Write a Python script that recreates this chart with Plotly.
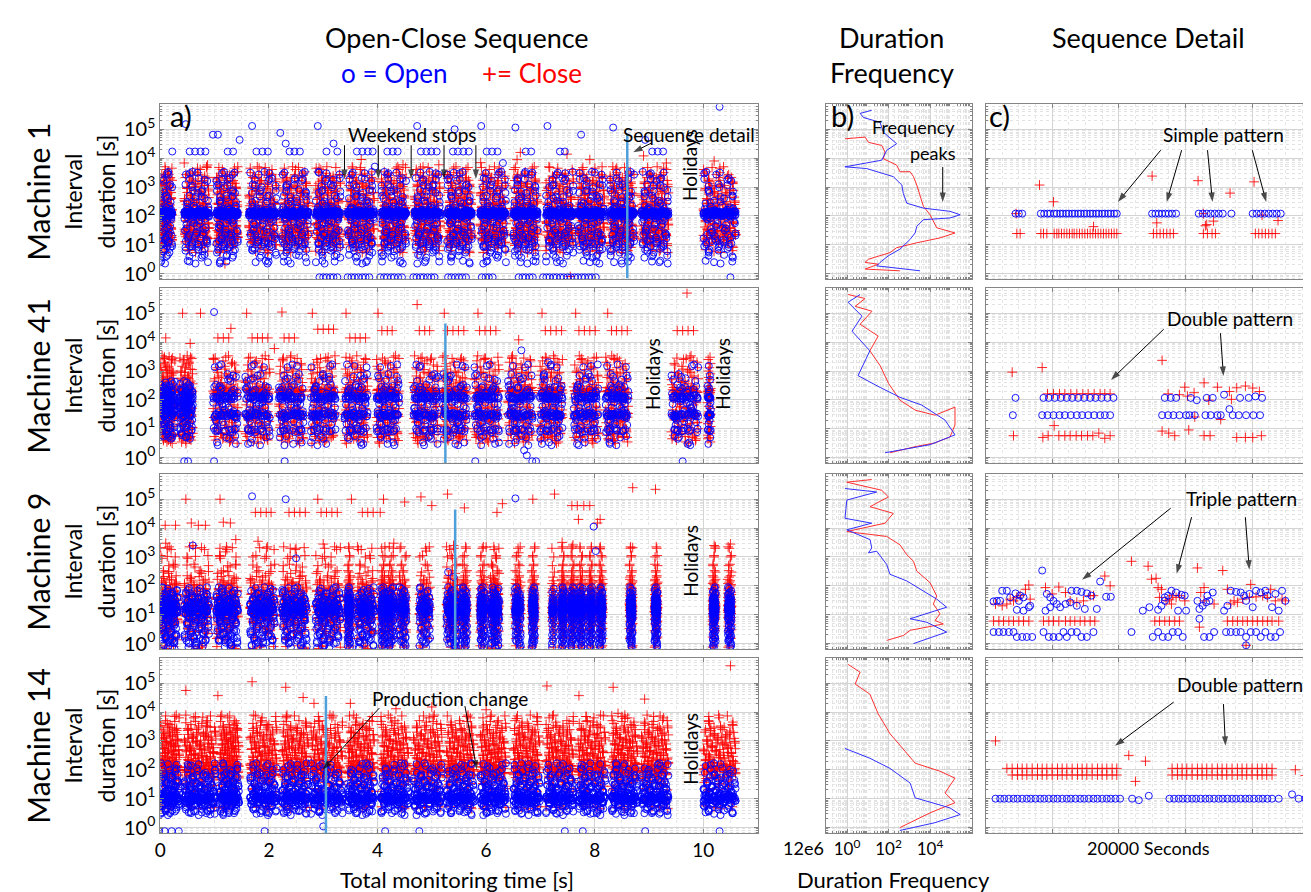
import plotly.graph_objects as go

W, H = 1311, 892

# ---------------- DATA ----------------
MACHINES = ["Machine 1", "Machine 41", "Machine 9", "Machine 14"]
TIME_TICKS = [0, 2, 4, 6, 8, 10]
TIME_TICK_TEXT = ["0", "2", "4", "6", "8", "10"]
DUR_TICKS = [1, 10, 100, 1000, 10000, 100000]
DUR_TICK_TEXT = ["10<sup>0</sup>", "10<sup>1</sup>", "10<sup>2</sup>", "10<sup>3</sup>", "10<sup>4</sup>", "10<sup>5</sup>"]
FREQ_TICKS = [1, 100, 10000]
FREQ_TICK_TEXT = ["10<sup>0</sup>", "10<sup>2</sup>", "10<sup>4</sup>"]

# within-block positions (fraction of block width), read as a scatter pattern
FR = [0.03, 0.51, 0.27, 0.84, 0.12, 0.66, 0.39, 0.95, 0.21, 0.73, 0.05, 0.58, 0.33, 0.89, 0.16,
      0.47, 0.78, 0.09, 0.62, 0.36, 0.99, 0.24, 0.70, 0.43, 0.14, 0.81, 0.55, 0.30, 0.92, 0.07,
      0.64, 0.19, 0.49, 0.86, 0.40, 0.01, 0.76, 0.28, 0.60, 0.97, 0.11, 0.45, 0.69, 0.35, 0.82,
      0.23, 0.53, 0.91, 0.17, 0.74]
SPREAD = [1.0, 1.12, 0.9, 1.05, 0.95, 1.18]

# ---- Machine 1 (time in 1e6 s, durations in s)
m1_start = [0.0, 0.44, 1.03, 1.63, 2.24, 2.86, 3.45, 4.07, 4.68, 5.28, 5.89, 6.50, 7.10, 7.69, 8.28, 8.86, 10.0]
m1_end = [0.22, 0.90, 1.43, 2.15, 2.73, 3.32, 3.94, 4.53, 5.16, 5.74, 6.37, 6.95, 7.61, 8.18, 8.73, 9.36, 10.6]
m1_passes = [3, 4, 4, 4, 4, 4, 4, 4, 4, 4, 4, 4, 4, 4, 4, 4, 4]
m1_open_levels = [2.5, 4, 6, 8, 10, 12, 15, 20, 25, 35, 50, 70, 90, 100, 105, 110, 112, 115, 117, 118, 120, 120,
                  121, 122, 123, 125, 127, 130, 133, 138, 145, 160, 200, 300, 450, 700, 1100, 1800, 3000,
                  119, 116, 124, 126, 114, 128]
m1_close_levels = [6, 9, 11, 13, 15, 17, 19, 21, 23, 25, 28, 31, 35, 40, 46, 52, 60, 70, 80, 95, 110, 130, 150,
                   175, 200, 240, 280, 330, 400, 480, 580, 700, 850, 1000, 1250, 1500, 1900, 2400, 3000,
                   4500, 16, 20, 24, 30, 150, 250]
m1_open_out_x = [0.47, 0.97, 1.06, 1.69, 1.46, 2.21, 2.31, 2.90, 3.19, 3.95, 4.73, 5.42, 5.91, 6.54, 7.13, 7.75,
                 8.34, 8.93, 6.31,
                 0.22, 0.54, 0.64, 0.74, 0.83, 1.24, 1.34, 1.77, 1.88, 1.98, 2.38, 2.47, 2.57, 3.06, 3.26,
                 3.62, 3.72, 3.82, 3.91, 4.18, 4.28, 4.37, 4.80, 4.90, 4.99, 5.09, 5.39, 5.48, 5.58, 5.68,
                 6.01, 6.11, 6.21, 6.73, 6.83, 7.36, 7.45, 9.06, 9.16, 9.26, 10.3,
                 2.93, 3.00, 3.06, 3.13, 3.19, 3.26, 3.45, 3.52, 3.58, 3.65, 3.72, 3.78, 3.85, 4.05, 4.12,
                 4.18, 4.25, 4.31, 4.38, 4.45, 4.66, 4.72, 4.79, 4.85, 4.92, 4.99, 5.05, 5.30, 5.36, 5.43,
                 5.50, 5.56, 5.63, 5.92, 5.99, 6.05, 6.12, 6.60, 6.67, 6.73, 6.80, 6.86, 7.05, 7.11, 7.17,
                 7.24, 7.30, 7.37, 7.43, 7.50, 7.56, 7.63, 7.69, 7.76, 7.82, 7.89, 7.95, 8.02, 10.5]
m1_open_out_y = [150000, 65000, 65000, 130000, 43000, 75000, 32000, 130000, 32000, 5100, 130000, 100000,
                 130000, 115000, 130000, 65000, 115000, 43000, 6800,
                 17000, 17000, 17000, 17000, 17000, 17000, 17000, 17000, 17000, 17000, 17000, 17000, 17000,
                 17000, 17000, 17000, 17000, 17000, 17000, 17000, 17000, 17000, 17000, 17000, 17000, 17000,
                 17000, 17000, 17000, 17000, 17000, 17000, 17000, 17000, 17000, 17000, 17000, 17000, 17000,
                 17000, 600000,
                 0.75, 0.75, 0.75, 0.75, 0.75, 0.75, 0.75, 0.75, 0.75, 0.75, 0.75, 0.75, 0.75, 0.75, 0.75,
                 0.75, 0.75, 0.75, 0.75, 0.75, 0.75, 0.75, 0.75, 0.75, 0.75, 0.75, 0.75, 0.75, 0.75, 0.75,
                 0.75, 0.75, 0.75, 0.75, 0.75, 0.75, 0.75, 0.75, 0.75, 0.75, 0.75, 0.75, 0.75, 0.75, 0.75,
                 0.75, 0.75, 0.75, 0.75, 0.75, 0.75, 0.75, 0.75, 0.75, 0.75, 0.75, 0.75, 0.75, 0.75]
m1_close_out_x = [0.44, 1.42, 0.87, 1.82, 2.87, 4.47, 5.13, 6.57, 7.49, 7.91, 9.32, 6.63, 1.19, 7.55, 3.7, 5.9,
                  8.9, 10.2]
m1_close_out_y = [6800, 3400, 5800, 4500, 4500, 5900, 5900, 8900, 13800, 8900, 6800, 15800, 2.2, 0.8, 9000,
                  7000, 12000, 8000]

# ---- Machine 41
m41_start = [0.0, 0.35, 0.97, 1.56, 2.18, 2.77, 3.39, 3.98, 4.66, 5.19, 5.78, 6.40, 6.99, 7.61, 8.20, 9.41, 10.08]
m41_end = [0.27, 0.60, 1.43, 2.02, 2.64, 3.23, 3.82, 4.40, 5.12, 5.65, 6.24, 6.86, 7.41, 8.07, 8.62, 9.91, 10.14]
m41_passes = [4, 3, 3, 3, 3, 3, 3, 3, 3, 3, 3, 3, 3, 3, 3, 3, 1]
m41_profile = [1, 1, 0, 0, 0, 0, 0, 0, 0, 0, 0, 0, 0, 0, 0, 0, 0]
m41_open_levels = [120, 118, 122, 125, 115, 120, 128, 112, 30, 29, 31, 32, 28, 30, 33, 27, 9, 9, 8.5, 9.5,
                   60, 80, 200, 300, 500, 15, 20, 45, 150, 250, 700, 1500, 5, 3, 120, 30]
m41_open_early = [20, 25, 30, 35, 40, 50, 60, 70, 80, 90, 100, 110, 120, 130, 150, 170, 200, 250, 300, 400,
                  15, 12, 10, 8, 6, 5, 45, 55, 65, 75, 85, 95, 105, 140, 180, 220, 28, 33, 38, 48]
m41_close_levels = [200, 210, 190, 220, 180, 30, 30, 28, 32, 35, 25, 5, 6, 7, 8, 10, 12, 15, 18, 22, 40, 50, 60,
                    80, 100, 130, 160, 250, 300, 400, 500, 600, 800, 1000, 1300, 1800, 2500, 3000, 200, 230,
                    170, 3.5, 4.5]
m41_open_out_x = [0.99, 6.65, 7.14, 0.44, 0.51, 0.99, 2.29, 5.80, 6.85, 6.92, 9.62, 6.70, 6.75]
m41_open_out_y = [110000, 5200, 2000, 0.75, 0.75, 0.75, 0.75, 0.75, 0.75, 0.75, 0.75, 1.8, 1.2]
m41_close_out_x = [0.41, 0.74, 1.59, 2.24, 2.80, 3.42, 4.01, 4.73, 5.23, 5.85, 6.44, 7.03, 7.65, 8.24, 9.7,
                   4.08, 4.18, 4.27, 4.77, 4.87, 4.96, 5.29, 5.39, 5.49, 5.59, 5.88, 5.98, 6.08, 6.18, 7.09,
                   7.19, 7.29, 7.39, 7.71, 7.81, 7.91, 8.01, 8.31, 8.40, 8.50, 8.60, 9.52, 9.62, 9.72, 9.82,
                   2.90, 3.00, 3.10, 3.19,
                   1.06, 1.16, 1.26, 1.69, 1.79, 1.88, 1.98, 2.28, 2.37, 2.47, 3.49, 3.59, 3.68, 3.78,
                   0.1, 0.55, 1.3, 2.1, 6.6]
m41_close_out_y = [100000, 100000, 100000, 110000, 100000, 100000, 100000, 200000, 100000, 100000, 100000,
                   100000, 100000, 100000, 500000,
                   25000, 25000, 25000, 25000, 25000, 25000, 25000, 25000, 25000, 25000, 25000, 25000, 25000,
                   25000, 25000, 25000, 25000, 25000, 25000, 25000, 25000, 25000, 25000, 25000, 25000, 25000,
                   25000, 25000, 25000, 25000,
                   28000, 28000, 28000, 28000,
                   14000, 14000, 14000, 14000, 14000, 14000, 14000, 14000, 14000, 14000, 14000, 14000, 14000,
                   14000,
                   14000, 9000, 30000, 6000, 12000]

# ---- Machine 9
m9_start = [0.0, 0.44, 1.03, 1.65, 2.24, 2.86, 3.45, 3.62, 4.07, 4.20, 4.40, 4.77, 5.27, 5.56, 5.89, 6.08,
            6.53, 6.84, 7.21, 7.39, 7.56, 7.72, 7.90, 8.08, 8.64, 9.10, 10.17, 10.45]
m9_end = [0.32, 0.90, 1.43, 2.11, 2.70, 3.32, 3.50, 3.94, 4.14, 4.30, 4.53, 4.97, 5.49, 5.65, 5.97, 6.24,
          6.64, 6.90, 7.26, 7.44, 7.62, 7.78, 7.96, 8.15, 8.70, 9.16, 10.23, 10.52]
m9_passes = [4, 4, 4, 4, 4, 4, 2, 3, 2, 2, 2, 2, 3, 2, 2, 3, 2, 2, 1, 2, 2, 2, 2, 2, 2, 2, 2, 2]
m9_open_levels = [8, 9, 10, 11, 12, 13, 14, 15, 16, 17, 18, 19, 20, 22, 24, 26, 28, 30, 33, 36, 40, 50, 60, 80,
                  1.0, 1.2, 1.4, 1.7, 2.0, 2.4, 3.0, 3.6, 4.5, 5.5, 6.5, 7, 15, 14, 12, 13, 16, 0.75]
m9_close_levels = [3, 4, 5, 6, 7, 8, 9, 10, 11, 12, 13, 14, 15, 16, 18, 20, 22, 25, 28, 30, 35, 40, 45, 50, 60,
                   70, 80, 100, 120, 150, 200, 300, 500, 1000, 2000, 0.75, 1.5, 2.5, 17, 19, 21]
m9_open_out_x = [1.69, 2.31, 6.54, 7.98, 8.02, 0.6, 2.5, 5.4, 5.3]
m9_open_out_y = [126000, 100000, 107000, 11200, 1600, 2500, 900, 200, 300]
m9_close_out_x = [0.47, 1.10, 2.90, 3.52, 4.11, 4.80, 5.29, 6.86, 7.26, 8.70, 9.12,
                  1.75, 1.85, 1.95, 2.04, 2.37, 2.47, 2.57, 2.67, 2.96, 3.06, 3.16, 3.26, 3.72, 3.82, 3.92,
                  4.05, 7.58, 7.68, 7.80, 7.91,
                  0.09, 0.28, 0.57, 0.70, 0.83, 1.16, 1.29, 1.39, 4.5, 5.0, 5.6, 6.2, 6.3, 7.7, 8.05, 8.1,
                  0.1, 0.6, 1.2, 1.8, 2.5, 3.0, 3.7, 4.3, 4.9, 5.4, 6.0, 6.6, 7.4, 7.6, 8.1, 8.7, 10.2, 10.5]
m9_close_out_y = [100000, 100000, 100000, 100000, 100000, 120000, 150000, 100000, 150000, 250000, 220000,
                  35000, 35000, 35000, 35000, 35000, 35000, 35000, 35000, 35000, 35000, 35000, 35000,
                  35000, 35000, 35000, 35000, 60000, 60000, 60000, 60000,
                  12500, 12500, 15000, 12500, 12500, 16000, 15000, 4000, 80000, 60000, 50000, 35000, 70000,
                  20000, 15000, 20000,
                  3000, 2500, 1500, 3500, 2000, 2800, 1800, 3000, 1600, 2500, 2200, 1400, 3200, 2600, 1900,
                  2100, 2500, 2800]

# ---- Machine 14
m14_start = [0.0, 0.44, 1.10, 1.65, 2.24, 2.77, 3.45, 4.06, 4.66, 5.27, 5.89, 6.50, 7.10, 7.69, 8.31, 8.86, 10.0]
m14_end = [0.35, 1.03, 1.45, 2.15, 2.73, 3.36, 3.94, 4.57, 5.19, 5.78, 6.37, 6.99, 7.61, 8.20, 8.79, 9.36, 10.6]
m14_passes = [4, 5, 4, 4, 4, 4, 4, 4, 4, 4, 4, 4, 4, 4, 4, 4, 4]
m14_open_levels = [3, 3.5, 4, 5, 6, 7, 7.5, 8, 8.5, 9, 9.5, 10, 10, 10.5, 11, 11.5, 12, 13, 14, 15, 16, 18, 20,
                   22, 25, 28, 30, 35, 40, 50, 60, 70, 100, 150, 9, 10, 11, 12, 8, 6.5]
m14_close_levels = [5, 10, 20, 30, 40, 50, 60, 70, 80, 90, 100, 110, 125, 140, 160, 180, 200, 230, 260, 300,
                    350, 400, 450, 520, 600, 700, 800, 950, 1100, 1300, 1500, 1800, 2200, 2700, 3300, 4500,
                    7000, 80, 100, 120, 90, 150]
m14_open_out_x = [-0.02, 0.08, 0.21, 0.34, 1.92, 4.14, 4.77, 7.45, 7.78, 8.93, 3.0, 10.3]
m14_open_out_y = [0.75, 0.75, 0.75, 0.75, 0.75, 0.75, 0.75, 0.75, 0.75, 0.75, 1.1, 0.75]
m14_close_out_x = [0.47, 1.06, 1.69, 2.31, 2.83, 2.63, 1.95, 1.39, 4.34, 7.12, 7.71, 7.84, 8.34, 8.43, 8.56,
                   8.92, 9.25, 6.56, 3.5, 5.0, 6.0, 10.5]
m14_close_out_y = [56000, 37000, 112000, 72000, 20000, 32000, 3700, 2800, 13000, 80000, 37000, 7000, 72000,
                   9000, 6000, 28000, 5200, 6000, 20000, 15000, 12000, 400000]

# sequence-detail marker lines (time 1e6 s, top duration s)
SEQ_X = [8.6, 5.25, 5.43, 3.05]
SEQ_TOP = [65000, 44000, 44000, 36000]
SEQ_BOTTOM = [0.7, 0.63, 0.63, 0.63]

# ---- Duration frequency curves (log10 frequency, log10 duration)
b1_blue_f = [1.19, 0.63, 0.79, 1.59, 1.75, 2.39, 1.91, 1.67, -0.10, 0.95, 2.23, 2.64, 2.71, 2.88, 3.68, 4.96,
             5.45, 4.96, 3.68, 3.36, 3.28, 3.04, 2.55, 1.99, 1.59, 1.43, 2.07, 3.52]
b1_blue_d = [5.66, 5.55, 5.41, 5.24, 4.90, 4.50, 4.27, 3.93, 3.70, 3.64, 3.36, 3.07, 2.78, 2.44, 2.27, 2.16,
             2.04, 1.93, 1.87, 1.64, 1.41, 1.19, 0.85, 0.62, 0.39, 0.27, 0.22, 0.10]
b1_red_f = [-0.10, 0.87, 1.03, 1.67, 1.83, 1.75, 2.39, 2.55, 3.04, 3.20, 3.36, 3.52, 3.68, 4.00, 4.24, 4.32,
            5.20, 4.48, 3.36, 2.39, 2.07, 1.03, 0.87, 1.51, 0.87, 2.55]
b1_red_d = [4.67, 4.73, 4.55, 4.44, 4.21, 3.98, 3.76, 3.53, 3.53, 3.36, 3.07, 2.67, 2.33, 2.04, 1.70, 1.59,
            1.41, 1.24, 1.07, 0.90, 0.73, 0.50, 0.39, 0.33, 0.16, 0.10]
b2_blue_f = [0.63, 0.05, 0.72, 0.24, 1.10, 0.53, 1.60, 2.55, 3.60, 4.72, 5.20, 4.00, 1.83]
b2_blue_d = [5.65, 5.38, 4.90, 4.38, 3.70, 2.84, 2.43, 2.09, 1.82, 1.30, 0.79, 0.45, 0.17]
b2_red_f = [0.05, 0.87, 0.39, 1.20, 0.63, 1.50, 1.10, 1.60, 2.00, 2.55, 3.30, 4.24, 5.20, 5.20, 4.96, 4.24,
            3.28, 2.07]
b2_red_d = [5.65, 5.51, 5.24, 5.07, 4.62, 4.21, 3.70, 3.18, 2.57, 1.99, 1.64, 1.47, 1.75, 1.13, 0.72, 0.51,
            0.38, 0.17]
b3_blue_f = [-0.10, 1.43, -0.01, -0.10, 1.19, -0.01, 1.11, 1.19, 1.03, 1.43, 1.91, 2.07, 2.88, 3.68, 4.32,
             4.80, 3.04, 3.84, 4.80, 3.20]
b3_blue_d = [5.37, 5.25, 4.97, 4.34, 4.17, 3.94, 3.60, 3.31, 3.14, 3.20, 2.74, 2.40, 2.17, 1.83, 1.54, 1.26,
             0.86, 0.74, 0.40, 0.00]
b3_red_f = [1.19, -0.01, 1.67, 1.99, 1.11, 2.23, 1.83, -0.01, 1.91, 2.55, 2.88, 3.20, 3.36, 4.00, 4.32, 4.16,
            4.48, 4.24, 4.64, 3.04, 2.71, 1.91]
b3_red_d = [5.68, 5.59, 5.31, 5.08, 4.74, 4.51, 4.17, 3.88, 3.71, 3.42, 3.08, 2.85, 2.51, 2.11, 1.65, 1.37,
            1.03, 0.80, 0.68, 0.46, 0.28, 0.11]
b4_blue_f = [-0.10, 1.10, 2.07, 3.04, 3.28, 4.96, 5.45, 4.24, 2.55]
b4_blue_d = [2.74, 2.40, 2.05, 1.54, 1.03, 0.68, 0.45, 0.17, -0.10]
b4_red_f = [0.05, 0.63, 0.39, 1.10, 1.50, 2.07, 2.80, 3.28, 4.48, 5.20, 4.72, 5.20, 4.00, 2.55]
b4_red_d = [5.65, 5.38, 4.97, 4.62, 3.94, 3.25, 2.64, 2.23, 1.95, 1.71, 1.20, 0.86, 0.51, 0.00]

# ---- Sequence detail (x in grid units of the detail window, log10 duration)
c1_open_x = [0.45, 0.50, 0.55, 0.83, 0.88, 0.93, 0.97, 1.03, 1.07, 1.12, 1.16, 1.21, 1.25, 1.30, 1.34, 1.39,
             1.43, 1.48, 1.52, 1.57, 1.61, 1.66, 1.70, 1.75, 1.79, 1.84, 1.88, 1.93, 1.97, 2.50, 2.55, 2.60,
             2.65, 2.70, 2.75, 2.80, 2.86, 3.20, 3.26, 3.32, 3.38, 3.44, 3.50, 3.56, 3.69, 4.01, 4.07, 4.13,
             4.19, 4.25, 4.31, 4.37, 4.43]
c1_open_y = [2.08] * 53
c1_close_x = [0.47, 0.52, 0.83, 0.87, 0.92, 1.03, 1.07, 1.10, 1.14, 1.18, 1.22, 1.26, 1.30, 1.33, 1.37, 1.41,
              1.45, 1.49, 1.53, 1.57, 1.61, 1.65, 1.69, 1.73, 1.77, 1.81, 1.85, 1.89, 1.93, 1.97, 2.52, 2.57,
              2.62, 2.67, 2.72, 2.77, 2.82, 3.27, 3.33, 3.40, 3.45, 4.05, 4.10, 4.15, 4.20, 4.25, 4.30, 4.35,
              0.81, 1.02, 1.62, 2.50, 2.57, 3.19, 3.67, 3.27, 3.32, 3.30, 3.42, 4.03, 4.15, 4.39, 0.46]
c1_close_y = [1.39] * 48 + [3.07, 2.49, 1.63, 3.38, 1.76, 3.22, 2.79, 2.08, 1.70, 1.66, 1.82, 3.18, 2.03, 1.84,
                            2.08]

c2_open_x = [0.45, 0.87, 0.95, 1.04, 1.13, 1.22, 1.30, 1.39, 1.48, 1.57, 1.65, 1.74, 1.83, 1.92,
             2.69, 2.78, 2.86, 3.08, 3.17, 3.32, 3.41, 3.58, 3.82, 3.95, 4.05, 4.15,
             0.41, 0.85, 0.93, 1.02, 1.11, 1.19, 1.28, 1.37, 1.45, 1.54, 1.63, 1.72, 1.79, 1.87,
             2.65, 2.74, 2.82, 2.91, 3.01, 3.06, 3.14, 3.30, 3.38, 3.48, 3.53, 3.66, 3.71, 3.80, 3.91, 4.02, 4.12]
c2_open_y = [2.07, 2.07, 2.07, 2.07, 2.07, 2.07, 2.07, 2.07, 2.07, 2.07, 2.07, 2.07, 2.07, 2.07,
             2.07, 2.07, 2.07, 2.07, 1.99, 2.07, 2.07, 2.18, 2.07, 2.07, 2.12, 2.07,
             1.47, 1.47, 1.47, 1.47, 1.47, 1.47, 1.47, 1.47, 1.47, 1.47, 1.47, 1.47, 1.47, 1.47,
             1.47, 1.47, 1.47, 1.47, 1.47, 1.47, 1.47, 1.47, 1.47, 1.47, 1.47, 1.68, 1.47, 1.47, 1.47, 1.47, 1.47]
c2_close_x = [0.93, 1.02, 1.11, 1.19, 1.28, 1.37, 1.46, 1.54, 1.63, 1.72, 1.79, 1.87,
              0.42, 0.86, 0.94, 1.10, 1.19, 1.27, 1.36, 1.44, 1.53, 1.61, 1.70, 1.79, 1.87,
              0.40, 0.85, 1.03, 2.65, 2.74, 2.91, 2.99, 3.03, 3.13, 3.14, 3.05, 3.28, 3.35, 3.48, 3.53,
              3.66, 3.69, 3.77, 3.90, 4.01, 4.11,
              2.65, 2.75, 2.84, 3.28, 3.37, 3.77, 3.90, 4.01, 4.14]
c2_close_y = [2.21, 2.21, 2.21, 2.21, 2.21, 2.21, 2.21, 2.21, 2.21, 2.21, 2.21, 2.21,
              0.76, 0.70, 0.76, 0.76, 0.76, 0.76, 0.76, 0.76, 0.76, 0.76, 0.85, 0.67, 0.76,
              2.96, 3.12, 1.11, 3.37, 2.21, 2.18, 2.44, 2.13, 2.25, 1.41, 0.96, 2.59, 1.99, 2.44, 1.32,
              2.29, 2.02, 2.42, 2.48, 2.41, 2.29,
              0.92, 0.85, 0.76, 0.76, 0.76, 0.70, 0.70, 0.70, 0.76]

c3_open_x = [0.17, 0.22, 0.12, 0.25, 0.32, 0.37, 0.45, 0.52, 0.50, 0.57, 0.47, 0.57, 0.65, 0.67,
             0.12, 0.20, 0.27, 0.35, 0.42, 0.47, 0.55, 0.62, 0.70,
             0.92, 0.97, 1.02, 1.07, 1.12, 1.20, 1.27, 1.29, 1.37, 1.44, 1.52, 1.59, 0.90, 0.97, 1.37, 1.49, 1.67,
             0.87, 0.95, 1.02, 1.10, 1.17, 1.22, 1.29, 1.37, 1.44, 1.52, 1.62,
             0.85, 1.72, 1.81, 1.88, 2.19,
             2.36, 2.46, 2.59, 2.64, 2.69, 2.74, 2.79, 2.86, 2.94, 2.99, 2.89, 3.01, 2.69,
             2.51, 2.59, 2.66, 2.74, 2.81, 2.89, 2.96,
             3.18, 3.21, 3.26, 3.31, 3.36, 3.41, 3.33, 3.21, 3.28, 3.36, 3.43,
             3.58, 3.63, 3.68, 3.76, 3.83, 3.88, 3.91, 3.96, 4.01, 4.06, 4.13, 4.20, 4.23, 4.30, 4.35, 4.40, 4.45, 4.50,
             3.61, 3.68, 3.76, 3.83, 3.91, 3.98, 4.06, 4.13, 4.20, 4.28, 4.35, 4.42, 3.91]
c3_open_y = [1.48, 1.48, 1.46, 1.83, 1.83, 1.60, 1.74, 1.66, 1.48, 1.60, 1.17, 1.14, 1.26, 1.31,
             0.40, 0.40, 0.40, 0.40, 0.40, 0.23, 0.23, 0.23, 0.23,
             1.72, 1.60, 1.48, 1.37, 1.26, 1.37, 1.43, 1.83, 1.83, 1.79, 1.74, 1.66, 1.14, 1.26, 1.31, 1.20, 1.20,
             0.40, 0.23, 0.23, 0.23, 0.40, 0.23, 0.40, 0.40, 0.23, 0.23, 0.40,
             2.53, 2.15, 1.62, 1.62, 0.40,
             1.14, 1.26, 1.17, 1.31, 1.48, 1.66, 1.83, 1.77, 1.69, 1.66, 1.14, 1.14, 1.60,
             0.23, 0.40, 0.23, 0.23, 0.40, 0.40, 0.23,
             1.48, 1.20, 1.31, 1.43, 1.48, 1.77, 1.66, 0.86, 0.23, 0.23, 0.40,
             1.14, 1.31, 1.83, 1.79, 1.77, 1.66, 1.48, 1.72, 1.26, 1.83, 1.77, 1.83, 1.66, 1.26, 1.72, 1.14, 1.83, 1.48,
             0.40, 0.40, 0.40, 0.40, 0.23, 0.40, 0.40, 0.23, 0.40, 0.23, 0.23, 0.40, -0.06]
c3_close_x = [0.15, 0.25, 0.32, 0.37, 0.42, 0.47, 0.52, 0.60, 0.65, 0.67,
              0.12, 0.20, 0.27, 0.35, 0.42, 0.50, 0.57, 0.65,
              0.90, 1.00, 1.10, 1.20, 1.27, 1.37, 1.47, 1.57, 1.62,
              0.87, 0.95, 1.02, 1.10, 1.20, 1.27, 1.34, 1.42, 1.49, 1.57, 1.64,
              1.79, 1.87, 2.19,
              2.44, 2.49, 2.56, 2.59, 2.64, 2.61, 2.71, 2.76, 2.81, 2.86, 2.91, 2.99, 2.79,
              2.54, 2.61, 2.69, 2.76, 2.84, 2.91,
              3.18, 3.28, 3.23, 3.28, 3.43, 3.21,
              3.56, 3.98, 3.63, 3.68, 3.73, 3.78, 3.86, 3.96, 4.06, 4.16, 4.23, 4.28, 4.35, 4.45, 4.50,
              3.63, 3.71, 3.78, 3.86, 3.93, 4.01, 4.08, 4.16, 4.23, 4.30, 4.40, 3.91]
c3_close_y = [1.37, 1.31, 1.37, 1.54, 1.48, 1.60, 1.66, 1.88, 2.03, 1.54,
              0.78, 0.78, 0.78, 0.78, 0.78, 0.78, 0.78, 0.78,
              1.94, 1.72, 1.96, 1.77, 1.48, 1.43, 1.48, 1.66, 1.66,
              0.78, 0.78, 0.78, 0.78, 0.78, 0.78, 0.78, 0.78, 0.78, 0.78, 0.78,
              2.34, 2.00, 2.85,
              2.68, 2.23, 2.26, 1.94, 1.88, 1.60, 1.48, 1.54, 1.66, 1.60, 1.66, 1.48, 1.37,
              0.78, 0.78, 0.78, 0.78, 0.78, 0.78,
              2.62, 1.94, 1.77, 1.48, 1.37, 0.57,
              2.53, 2.05, 1.88, 1.37, 1.48, 1.43, 1.54, 1.60, 1.62, 1.66, 1.60, 1.88, 1.48, 1.54, 1.48,
              0.78, 0.78, 0.78, 0.78, 0.78, 0.78, 0.78, 0.78, 0.78, 0.78, 0.78, -0.06]

c4_open_x = [0.15, 0.22, 0.28, 0.35, 0.42, 0.48, 0.55, 0.62, 0.68, 0.75, 0.82, 0.88, 0.95, 1.02, 1.08, 1.15,
             1.22, 1.28, 1.35, 1.42, 1.48, 1.55, 1.62, 1.68, 1.75, 1.82, 1.88, 1.95, 2.02, 2.20, 2.30, 2.45,
             2.76, 2.83, 2.90, 2.96, 3.03, 3.10, 3.16, 3.23, 3.30, 3.36, 3.43, 3.50, 3.56, 3.63, 3.70, 3.76,
             3.83, 3.90, 3.96, 4.03, 4.10, 4.16, 4.23, 4.30, 4.40, 4.60, 4.70, 4.80]
c4_open_y = [1.0] * 29 + [1.0, 0.95, 1.1] + [1.0] * 25 + [1.15, 1.0, 1.0, 1.0]
c4_close_x = [0.15, 0.32, 0.40, 0.48, 0.55, 0.62, 0.70, 0.78, 0.85, 0.92, 1.00, 1.08, 1.15, 1.22, 1.30, 1.38,
              1.45, 1.52, 1.60, 1.68, 1.75, 1.82, 1.90, 1.97,
              0.40, 0.48, 0.55, 0.62, 0.70, 0.78, 0.85, 0.92, 1.00, 1.08, 1.15, 1.22, 1.30, 1.38,
              1.45, 1.52, 1.60, 1.68, 1.75, 1.82, 1.90, 1.97,
              2.15, 2.25, 2.40,
              2.80, 2.88, 2.95, 3.02, 3.10, 3.18, 3.25, 3.32, 3.40, 3.48, 3.55, 3.62, 3.70, 3.78, 3.85,
              3.92, 4.00, 4.08, 4.15, 4.22, 4.30,
              2.80, 2.88, 2.95, 3.02, 3.10, 3.18, 3.25, 3.32, 3.40, 3.48, 3.55, 3.62, 3.70, 3.78, 3.85,
              3.92, 4.00, 4.08, 4.15, 4.22, 4.30, 4.65, 4.80]
c4_close_y = [3.0] + [2.05] * 23 + [1.82] * 22 + [2.5, 1.6, 2.3] + [2.05] * 21 + [1.82] * 21 + [2.0, 1.8]

# ---------------- FIGURE ----------------
FONT = "Lato"
BLUE = "rgba(0,0,255,0.9)"
RED = "rgba(255,0,0,0.85)"


def build(starts, ends, passes, levels, profile=None):
    xs, ys = [], []
    for b, (s, e) in enumerate(zip(starts, ends)):
        lv = levels[profile[b]] if profile else levels[0]
        for p in range(passes[b]):
            g = SPREAD[p % len(SPREAD)]
            for j, v in enumerate(lv):
                f = FR[(j + 17 * p + 7 * b) % len(FR)]
                xs.append(s + (e - s) * f)
                ys.append(v * g)
    return xs, ys


panel_a = []
ox, oy = build(m1_start, m1_end, m1_passes, [m1_open_levels])
cx, cy = build(m1_start, m1_end, m1_passes, [m1_close_levels])
panel_a.append((ox + m1_open_out_x, oy + m1_open_out_y, cx + m1_close_out_x, cy + m1_close_out_y))
ox, oy = build(m41_start, m41_end, m41_passes, [m41_open_levels, m41_open_early], m41_profile)
cx, cy = build(m41_start, m41_end, m41_passes, [m41_close_levels, m41_close_levels], m41_profile)
panel_a.append((ox + m41_open_out_x, oy + m41_open_out_y, cx + m41_close_out_x, cy + m41_close_out_y))
ox, oy = build(m9_start, m9_end, m9_passes, [m9_open_levels])
cx, cy = build(m9_start, m9_end, m9_passes, [m9_close_levels])
panel_a.append((ox + m9_open_out_x, oy + m9_open_out_y, cx + m9_close_out_x, cy + m9_close_out_y))
ox, oy = build(m14_start, m14_end, m14_passes, [m14_open_levels])
cx, cy = build(m14_start, m14_end, m14_passes, [m14_close_levels])
panel_a.append((ox + m14_open_out_x, oy + m14_open_out_y, cx + m14_close_out_x, cy + m14_close_out_y))

panel_b = [(b1_blue_f, b1_blue_d, b1_red_f, b1_red_d), (b2_blue_f, b2_blue_d, b2_red_f, b2_red_d),
           (b3_blue_f, b3_blue_d, b3_red_f, b3_red_d), (b4_blue_f, b4_blue_d, b4_red_f, b4_red_d)]
panel_c = [(c1_open_x, c1_open_y, c1_close_x, c1_close_y), (c2_open_x, c2_open_y, c2_close_x, c2_close_y),
           (c3_open_x, c3_open_y, c3_close_x, c3_close_y), (c4_open_x, c4_open_y, c4_close_x, c4_close_y)]


def p10(v):
    return [10 ** t for t in v]


fig = go.Figure()

ROW_PX = [(97, 273), (282, 458), (469, 645), (654, 830)]
COL_PX = [(147, 747), (816, 962), (976, 1306)]


def ax(k, kind):
    return kind if k == 1 else f"{kind}{k}"


circ = dict(symbol="circle-open", size=7, color=BLUE, line=dict(width=1, color=BLUE))
plus = dict(symbol="cross-thin-open", size=7, color=RED, line=dict(width=1, color=RED))

for r in range(4):
    ka, kb, kc = 3 * r + 1, 3 * r + 2, 3 * r + 3
    ox, oy, cx, cy = panel_a[r]
    fig.add_trace(go.Scatter(x=cx, y=cy, mode="markers", marker=plus, xaxis=ax(ka, "x"), yaxis=ax(ka, "y"),
                             showlegend=False, hoverinfo="skip"))
    fig.add_trace(go.Scatter(x=ox, y=oy, mode="markers", marker=circ, xaxis=ax(ka, "x"), yaxis=ax(ka, "y"),
                             showlegend=False, hoverinfo="skip"))
    fig.add_trace(go.Scatter(x=[SEQ_X[r], SEQ_X[r]], y=[SEQ_BOTTOM[r], SEQ_TOP[r]], mode="lines",
                             line=dict(color="#4f9fdc", width=2.5), xaxis=ax(ka, "x"), yaxis=ax(ka, "y"),
                             showlegend=False, hoverinfo="skip"))
    bf, bd, rf, rd = panel_b[r]
    fig.add_trace(go.Scatter(x=p10(rf), y=p10(rd), mode="lines", line=dict(color="#ff3030", width=1),
                             xaxis=ax(kb, "x"), yaxis=ax(kb, "y"), showlegend=False, hoverinfo="skip"))
    fig.add_trace(go.Scatter(x=p10(bf), y=p10(bd), mode="lines", line=dict(color="#3030ff", width=1),
                             xaxis=ax(kb, "x"), yaxis=ax(kb, "y"), showlegend=False, hoverinfo="skip"))
    qx, qy, wx, wy = panel_c[r]
    fig.add_trace(go.Scatter(x=wx, y=p10(wy), mode="markers", marker=plus, xaxis=ax(kc, "x"),
                             yaxis=ax(kc, "y"), showlegend=False, hoverinfo="skip"))
    fig.add_trace(go.Scatter(x=qx, y=p10(qy), mode="markers", marker=circ, xaxis=ax(kc, "x"),
                             yaxis=ax(kc, "y"), showlegend=False, hoverinfo="skip"))

LINE = "#858585"
MINOR_LOG = [m * 10 ** e for e in range(-2, 7) for m in range(2, 10)]
common = dict(showline=True, linecolor=LINE, linewidth=1, mirror="ticks", ticks="inside", ticklen=4,
              tickcolor=LINE, showgrid=True, gridcolor="#d4d4d4", gridwidth=1, zeroline=False,
              tickfont=dict(family=FONT, size=19, color="black"))
minor_log = dict(tickvals=MINOR_LOG, ticks="inside", ticklen=2, tickcolor=LINE, showgrid=True,
                 gridcolor="#e2e2e2", griddash="dot")

layout = dict(width=W, height=H, margin=dict(l=0, r=0, t=0, b=0), paper_bgcolor="white",
              plot_bgcolor="rgba(0,0,0,0)", font=dict(family=FONT, color="black"))

for r in range(4):
    t, b = ROW_PX[r]
    ydom = [1 - b / H, 1 - t / H]
    for c in range(3):
        k = 3 * r + c + 1
        l, rr = COL_PX[c]
        xd = dict(common, domain=[l / W, rr / W], anchor=ax(k, "y"))
        yd = dict(common, domain=ydom, anchor=ax(k, "x"), type="log", range=[-0.2, 5.86],
                  tickmode="array", tickvals=DUR_TICKS, ticktext=DUR_TICK_TEXT, showticklabels=(c == 0),
                  minor=minor_log, tickfont=dict(family=FONT, size=20, color="black"))
        if c == 0:
            xd.update(range=[0, 11], tickmode="array", tickvals=TIME_TICKS, ticktext=TIME_TICK_TEXT,
                      showticklabels=(r == 3), minor=dict(dtick=0.5, showgrid=True, gridcolor="#e6e6e6",
                                                          griddash="dot"))
        elif c == 1:
            xd.update(type="log", range=[-1, 6], tickmode="array", tickvals=FREQ_TICKS,
                      ticktext=FREQ_TICK_TEXT, showticklabels=(r == 3), minor=minor_log,
                      tickfont=dict(family=FONT, size=17, color="black"))
        else:
            xd.update(range=[0, 4.93], tickmode="array", tickvals=[1, 2, 3, 4], showticklabels=False,
                      minor=dict(dtick=0.25, showgrid=True, gridcolor="#e6e6e6", griddash="dot"))
        layout[ax(k, "xaxis")] = xd
        layout[ax(k, "yaxis")] = yd

# invisible full-page overlay (pixel coordinates) for the annotation arrows
layout["xaxis13"] = dict(domain=[0, 1], range=[0, W], visible=False, fixedrange=True, anchor="y13",
                         showgrid=False, zeroline=False)
layout["yaxis13"] = dict(domain=[0, 1], range=[H, 0], visible=False, fixedrange=True, anchor="x13",
                         showgrid=False, zeroline=False)

fig.update_layout(**layout)


def P(px, py):
    return px / W, 1 - py / H


anns = []


def text(s, px, py, size, color="black", angle=0, xanchor="center"):
    x, y = P(px, py)
    anns.append(dict(text=s, x=x, y=y, xref="paper", yref="paper", showarrow=False, textangle=angle,
                     xanchor=xanchor, yanchor="middle", font=dict(family=FONT, size=size, color=color)))


def arrow(tx, ty, hx, hy):
    fig.add_trace(go.Scatter(x=[tx, hx], y=[ty, hy], mode="lines+markers", xaxis="x13", yaxis="y13",
                             line=dict(color="black", width=1),
                             marker=dict(symbol="arrow", size=[0, 10], angleref="previous", color="black",
                                         line=dict(width=0)),
                             showlegend=False, hoverinfo="skip"))


# headers
text("Open-Close Sequence", 445, 30, 27)
text("o = Open", 382, 65, 26, color="#0000ff")
text("+= Close", 520, 65, 26, color="#ff0000")
text("Duration", 882, 30, 27)
text("Frequency", 882, 65, 27)
text("Sequence Detail", 1140, 30, 27)
# footers
text("Total monitoring time [s]", 445, 876, 22)
text("Duration Frequency", 884, 876, 22)
text("20000 Seconds", 1140, 845, 18)
text("12e6", 793, 845, 18)

row_mid = [185, 370, 557, 742]
for r in range(4):
    text(MACHINES[r], 24, row_mid[r], 30, angle=-90)
    text("Interval", 59, row_mid[r], 23, angle=-90)
    text("duration [s]", 92, row_mid[r], 23, angle=-90)

# panel letters
text("a)", 168, 108, 29)
text("b)", 832, 108, 29)
text("c)", 990, 108, 29)

# row 1
text("Weekend stops", 400, 127, 19)
for xx in [332, 366, 399, 432, 464]:
    arrow(xx, 138, xx, 172)
text("Sequence detail", 678, 127, 19)
arrow(640, 136, 622, 145)
text("Holidays", 678, 158, 19, angle=-90)
text("Frequency", 904, 120, 18)
text("peaks", 923, 146, 18)
arrow(933, 160, 933, 195)
text("Simple pattern", 1215, 127, 19)
arrow(1152, 143, 1109, 195)
arrow(1173, 143, 1158, 195)
arrow(1199, 143, 1204, 195)
arrow(1244, 143, 1258, 195)
# row 2
text("Holidays", 642, 368, 19, angle=-90)
text("Holidays", 712, 368, 19, angle=-90)
text("Double pattern", 1222, 312, 19)
arrow(1155, 323, 1102, 374)
arrow(1212, 327, 1215, 370)
# row 3
text("Holidays", 680, 556, 19, angle=-90)
text("Triple pattern", 1233, 493, 19)
arrow(1162, 503, 1073, 575)
arrow(1183, 512, 1168, 569)
arrow(1237, 512, 1241, 565)
# row 4
text("Production change", 438, 694, 19)
arrow(367, 704, 310, 766)
arrow(453, 702, 465, 766)
text("Holidays", 680, 745, 19, angle=-90)
text("Double pattern", 1232, 680, 19)
arrow(1165, 698, 1106, 742)
arrow(1215, 700, 1217, 742)

fig.update_layout(annotations=anns)
fig.write_html("out.html")
